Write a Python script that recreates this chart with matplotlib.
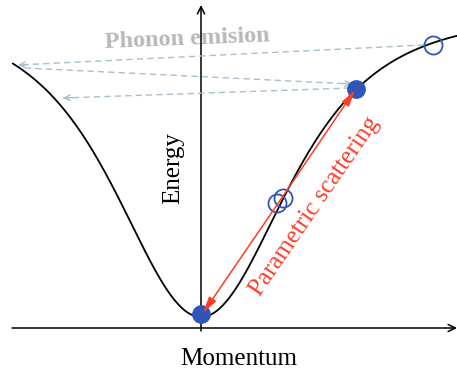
import numpy as np
import matplotlib.pyplot as plt

# --- dispersion parameters (momentum / energy in arbitrary units) ---
E_MIN = 0.11        # energy at k = 0
DEPTH = 3.03        # height of the branch above its minimum
WIDTH = 1.55        # momentum scale of the branch
K_LEFT, K_RIGHT = -1.88, 2.58

# polariton states on the branch
signal_k, signal_E = [0.0], [0.14]
idler_k, idler_E = [1.55], [2.39]
pump_k = [0.76, 0.82]
pump_E = [1.25, 1.30]
relax_k, relax_E = [2.32], [2.83]

# phonon emission steps: (start_k, start_E, end_k, end_E)
phonon_steps = [
    (2.23, 2.83, -1.83, 2.63),
    (-1.76, 2.60, 1.51, 2.44),
    (1.49, 2.40, -1.38, 2.30),
]

BLUE = '#2f55b8'
RED = '#ff3c28'
GREY = '#a9bfcc'


def branch(k):
    return E_MIN + DEPTH * (1 - (1 + (k / WIDTH) ** 2) ** -2)


fig = plt.figure(figsize=(4.57, 3.71), dpi=100)
ax = fig.add_axes([0, 0, 1, 1])
ax.set_xlim(-2.01, 2.56)
ax.set_ylim(-0.43, 3.28)
ax.axis('off')

plt.rcParams['font.family'] = ['Liberation Serif', 'DejaVu Serif']

# axes with arrow heads
ax.annotate('', xy=(2.56, 0), xytext=(-1.89, 0),
            arrowprops=dict(arrowstyle='->', lw=1.1, color='k',
                            shrinkA=0, shrinkB=0, mutation_scale=13), zorder=3)
ax.annotate('', xy=(0, 3.23), xytext=(0, -0.03),
            arrowprops=dict(arrowstyle='->', lw=1.1, color='k',
                            shrinkA=0, shrinkB=0, mutation_scale=13), zorder=3)

# lower branch
k = np.linspace(K_LEFT, K_RIGHT, 400)
ax.plot(k, branch(k), color='k', lw=1.3, zorder=2)

# phonon emission cascade: dashed shafts, solid heads
for k0, e0, k1, e1 in phonon_steps:
    ax.plot([k0, k1], [e0, e1], ls=(0, (4.5, 3)), color=GREY, lw=1.0, zorder=4)
    dk, de = k1 - k0, e1 - e0
    n = np.hypot(dk, de)
    ax.annotate('', xy=(k1, e1), xytext=(k1 - 0.1 * dk / n, e1 - 0.1 * de / n),
                arrowprops=dict(arrowstyle='->', lw=1.0, color=GREY,
                                shrinkA=0, shrinkB=0, mutation_scale=10), zorder=4)

ax.text(-0.96, 2.80, 'Phonon emision', color='#b8b8b8', fontsize=17.5,
        fontweight='bold', rotation=2.3, rotation_mode='anchor',
        ha='left', va='baseline', zorder=1)

# states
ax.plot(signal_k, signal_E, 'o', ms=12.5, color=BLUE, mec=BLUE, zorder=5)
ax.plot(idler_k, idler_E, 'o', ms=12.5, color=BLUE, mec=BLUE, zorder=5)
ax.plot(pump_k, pump_E, 'o', ms=13, mfc='none', mec=BLUE, mew=1.3, zorder=6)
ax.plot(relax_k, relax_E, 'o', ms=13, mfc='none', mec=BLUE, mew=1.3, zorder=6)

# parametric scattering: pump pair -> signal + idler
pk, pe = np.mean(pump_k), np.mean(pump_E)
for tk, te in [(0.02, 0.15), (1.54, 2.38)]:
    ax.annotate('', xy=(tk, te), xytext=(pk, pe),
                arrowprops=dict(arrowstyle='-|>,head_length=0.7,head_width=0.18',
                                lw=1.1, color=RED, shrinkA=0, shrinkB=0,
                                mutation_scale=14), zorder=7)

ax.text(0.59, 0.31, 'Parametric scattering', color=RED, fontsize=18,
        rotation=55.6, rotation_mode='anchor', ha='left', va='baseline')

ax.text(-0.28, 1.60, 'Energy', fontsize=18, rotation=90, ha='center', va='center')
ax.text(0.375, -0.37, 'Momentum', fontsize=18, ha='center', va='baseline')

fig.savefig('out.png', dpi=100)
